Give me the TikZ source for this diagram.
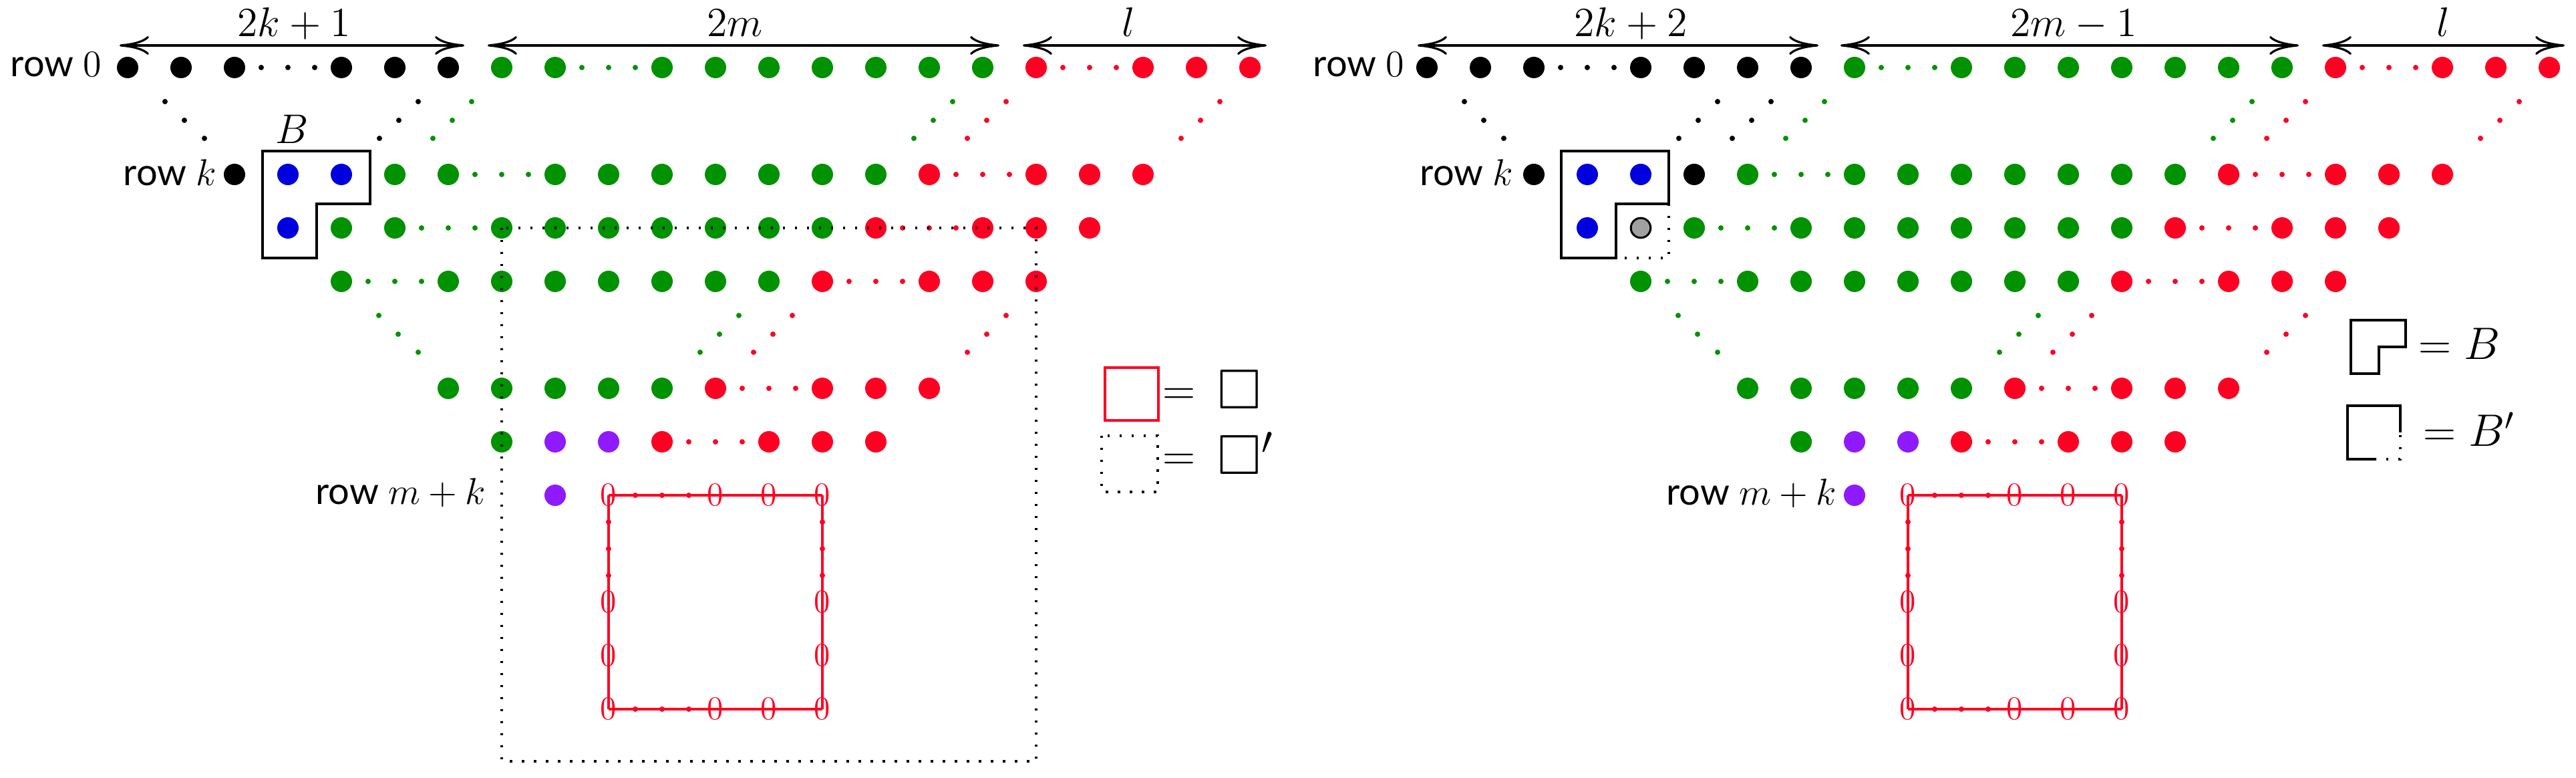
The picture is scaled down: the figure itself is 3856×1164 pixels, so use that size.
\RequirePackage{fix-cm}
\documentclass[tikz,border=0pt]{standalone}
\usepackage{amssymb}
\usepackage{graphicx}
\usepackage{fontspec}
\setmainfont{Lato}
\usetikzlibrary{arrows.meta}
\definecolor{dgreen}{RGB}{0,146,0}
\definecolor{dred}{RGB}{255,0,34}
\definecolor{dblue}{RGB}{0,0,222}
\definecolor{dpurple}{RGB}{143,26,255}
\definecolor{dgray}{RGB}{160,160,160}
\tikzset{
  bdot/.style={circle,inner sep=0pt,minimum size=8pt},
  sdot/.style={circle,inner sep=0pt,minimum size=2pt},
  dimarrow/.style={line width=0.8pt,{Computer Modern Rightarrow[length=11pt,width=7pt]}-{Computer Modern Rightarrow[length=11pt,width=7pt]}},
  dimlabel/.style={anchor=base,inner sep=0pt,font=\fontsize{15.5}{18}\selectfont},
  rowlabel/.style={anchor=base east,inner sep=0pt,font=\fontsize{14}{16}\selectfont},
  zero/.style={inner sep=0pt,text=dred,font=\fontsize{12.4}{14}\selectfont},
  legtext/.style={anchor=base west,inner sep=0pt,font=\fontsize{17}{20}\selectfont},
  sqline/.style={draw=dred,line width=1pt},
  sqside/.style={draw=dred,line width=0.8pt},
  dotline/.style={line width=0.875pt,dash pattern=on 0.875pt off 3.625pt},
  boxline/.style={line width=0.85pt},
}
% big dots in a row
\newcommand\bigrow[5]{\foreach \s in {#5}{\node[bdot,fill=#4] (#1-\s) at ({#2+80*\s},#3) {};}}
% horizontal ellipsis in a slot
\newcommand\ellrow[5]{\foreach \s in {#5}{\foreach \t/\oo in {a/-40,b/0,c/40}{\node[sdot,fill=#4] (#1-\s\t) at ({#2+80*\s+\oo},#3) {};}}}
% diagonal ellipsis going down-left
\newcommand\dldiag[5]{\foreach \s in {#5}{\foreach \t/\ox/\oy in {a/-45/51,b/-74/79,c/-103/106}{\node[sdot,fill=#4] (#1-\s\t) at ({#2+80*\s+(\ox)},{#3+\oy}) {};}}}
% diagonal ellipsis going down-right
\newcommand\drdiag[5]{\foreach \s in {#5}{\foreach \t/\ox/\oy in {a/56/51,b/85/79,c/115/106}{\node[sdot,fill=#4] (#1-\s\t) at ({#2+80*\s+\ox},{#3+\oy}) {};}}}
% red square of zeros
\newcommand\zerosquare[2]{%
  \foreach \c in {0,2,3,4}{%
    \node[zero] (#1t\c) at ({#2+80*\c},741) {$0$};
    \node[zero] (#1b\c) at ({#2+80*\c},1061) {$0$};}
  \foreach \r in {2,3}{%
    \node[zero] (#1l\r) at (#2,{741+80*\r}) {$0$};
    \node[zero] (#1r\r) at ({#2+320},{741+80*\r}) {$0$};}
  \foreach \t/\oo in {a/-40,b/0,c/40}{%
    \node[sdot,fill=dred] (#1te\t) at ({#2+80+\oo},741) {};
    \node[sdot,fill=dred] (#1be\t) at ({#2+80+\oo},1061) {};
    \node[sdot,fill=dred] (#1le\t) at (#2,{821+\oo}) {};
    \node[sdot,fill=dred] (#1re\t) at ({#2+320},{821+\oo}) {};}
  \draw[sqline] (#1t0.center) -- (#1t4.center);
  \draw[sqline] (#1b0.center) -- (#1b4.center);
  \draw[sqside] (#1t0.center) -- (#1b0.center);
  \draw[sqside] (#1t4.center) -- (#1b4.center);}
\begin{document}
\begin{tikzpicture}[x=0.25pt,y=-0.25pt]
\path[use as bounding box] (0,0) rectangle (3856,1164);

% ================= LEFT DIAGRAM =================
\coordinate (la1) at (179,68);  \coordinate (lb1) at (695,68);
\coordinate (la2) at (730,68);  \coordinate (lb2) at (1496,68);
\coordinate (la3) at (1531,68); \coordinate (lb3) at (1896,68);
\draw[dimarrow] (la1) -- (lb1);
\draw[dimarrow] (la2) -- (lb2);
\draw[dimarrow] (la3) -- (lb3);
\node[dimlabel] (lt1) at (440,55) {$2k+1$};
\node[dimlabel] (lt2) at (1100,55) {$2m$};
\node[dimlabel] (lt3) at (1689,55) {$l$};

\node[rowlabel] (lr0) at (153,115) {row $0$};
\node[rowlabel] (lrk) at (325,278) {row $k$};
\node[rowlabel] (lrm) at (728,755) {row $m+k$};

% row 0
\bigrow{L0}{191}{101}{black}{0,1,2,4,5,6}
\ellrow{L0}{191}{101}{black}{3}
\bigrow{L0}{191}{101}{dgreen}{7,8,10,11,12,13,14,15,16}
\ellrow{L0}{191}{101}{dgreen}{9}
\bigrow{L0}{191}{101}{dred}{17,19,20,21}
\ellrow{L0}{191}{101}{dred}{18}
% diagonals rows 0..k
\drdiag{LdU}{191}{101}{black}{0}
\dldiag{LdU}{191}{101}{black}{6}
\dldiag{LdU}{191}{101}{dgreen}{7,16}
\dldiag{LdU}{191}{101}{dred}{17,21}
% row k
\bigrow{Lk}{191}{261}{black}{2}
\bigrow{Lk}{191}{261}{dblue}{3,4}
\bigrow{Lk}{191}{261}{dgreen}{5,6,8,9,10,11,12,13,14}
\ellrow{Lk}{191}{261}{dgreen}{7}
\bigrow{Lk}{191}{261}{dred}{15,17,18,19}
\ellrow{Lk}{191}{261}{dred}{16}
% row k+1
\bigrow{LkA}{191}{341}{dblue}{3}
\bigrow{LkA}{191}{341}{dgreen}{4,5,7,8,9,10,11,12,13}
\ellrow{LkA}{191}{341}{dgreen}{6}
\bigrow{LkA}{191}{341}{dred}{14,16,17,18}
\ellrow{LkA}{191}{341}{dred}{15}
% row k+2
\bigrow{LkB}{191}{421}{dgreen}{4,6,7,8,9,10,11,12}
\ellrow{LkB}{191}{421}{dgreen}{5}
\bigrow{LkB}{191}{421}{dred}{13,15,16,17}
\ellrow{LkB}{191}{421}{dred}{14}
% diagonals lower
\drdiag{LdL}{191}{421}{dgreen}{4}
\dldiag{LdL}{191}{421}{dgreen}{12}
\dldiag{LdL}{191}{421}{dred}{13,17}
% row m+k-2
\bigrow{LmB}{191}{581}{dgreen}{6,7,8,9,10}
\bigrow{LmB}{191}{581}{dred}{11,13,14,15}
\ellrow{LmB}{191}{581}{dred}{12}
% row m+k-1
\bigrow{LmA}{191}{661}{dgreen}{7}
\bigrow{LmA}{191}{661}{dpurple}{8,9}
\bigrow{LmA}{191}{661}{dred}{10,12,13,14}
\ellrow{LmA}{191}{661}{dred}{11}
% row m+k
\bigrow{Lm}{191}{741}{dpurple}{8}
\zerosquare{LZ}{911}

% block B
\draw[boxline] (393,226) -- (554,226) -- (554,305) -- (474,305) -- (474,386) -- (393,386) -- cycle;
\node[dimlabel] (lB) at (437,215) {$B$};

% dotted square
\coordinate (ldbr) at (1551,1139);
\draw[dotline] (LkA-7.center) rectangle (ldbr);

% legend
\draw[dred,line width=0.83pt] (1654,550) rectangle (1734,629);
\draw[dotline] (1649,652) rectangle (1733,736);
\node[legtext] (leq1) at (1740,606) {$=$};
\node[legtext] (lsq1) at (1822,612) {\scalebox{1.24}{$\square$}};
\node[legtext] (leq2) at (1740,704) {$=$};
\node[legtext] (lsq2) at (1822,710) {\scalebox{1.24}{$\square'$}};

% ================= RIGHT DIAGRAM =================
\coordinate (ra1) at (2122,68);  \coordinate (rb1) at (2722,68);
\coordinate (ra2) at (2755,68);  \coordinate (rb2) at (3441,68);
\coordinate (ra3) at (3476,68);  \coordinate (rb3) at (3839,68);
\draw[dimarrow] (ra1) -- (rb1);
\draw[dimarrow] (ra2) -- (rb2);
\draw[dimarrow] (ra3) -- (rb3);
\node[dimlabel] (rt1) at (2441,55) {$2k+2$};
\node[dimlabel] (rt2) at (3104,55) {$2m-1$};
\node[dimlabel] (rt3) at (3657,55) {$l$};

\node[rowlabel] (rr0) at (2103,115) {row $0$};
\node[rowlabel] (rrk) at (2266,278) {row $k$};
\node[rowlabel] (rrm) at (2750,756) {row $m+k$};

% row 0
\bigrow{R0}{2136}{101}{black}{0,1,2,4,5,6,7}
\ellrow{R0}{2136}{101}{black}{3}
\bigrow{R0}{2136}{101}{dgreen}{8,10,11,12,13,14,15,16}
\ellrow{R0}{2136}{101}{dgreen}{9}
\bigrow{R0}{2136}{101}{dred}{17,19,20,21}
\ellrow{R0}{2136}{101}{dred}{18}
% diagonals rows 0..k
\drdiag{RdU}{2136}{101}{black}{0}
\dldiag{RdU}{2136}{101}{black}{6,7}
\dldiag{RdU}{2136}{101}{dgreen}{8,16}
\dldiag{RdU}{2136}{101}{dred}{17,21}
% row k
\bigrow{Rk}{2136}{261}{black}{2,5}
\bigrow{Rk}{2136}{261}{dblue}{3,4}
\bigrow{Rk}{2136}{261}{dgreen}{6,8,9,10,11,12,13,14}
\ellrow{Rk}{2136}{261}{dgreen}{7}
\bigrow{Rk}{2136}{261}{dred}{15,17,18,19}
\ellrow{Rk}{2136}{261}{dred}{16}
% row k+1
\bigrow{RkA}{2136}{341}{dblue}{3}
\node[bdot,fill=dgray,draw=black,line width=0.75pt,minimum size=7.4pt] (RkA-4) at (2456,341) {};
\bigrow{RkA}{2136}{341}{dgreen}{5,7,8,9,10,11,12,13}
\ellrow{RkA}{2136}{341}{dgreen}{6}
\bigrow{RkA}{2136}{341}{dred}{14,16,17,18}
\ellrow{RkA}{2136}{341}{dred}{15}
% row k+2
\bigrow{RkB}{2136}{421}{dgreen}{4,6,7,8,9,10,11,12}
\ellrow{RkB}{2136}{421}{dgreen}{5}
\bigrow{RkB}{2136}{421}{dred}{13,15,16,17}
\ellrow{RkB}{2136}{421}{dred}{14}
% diagonals lower
\drdiag{RdL}{2136}{421}{dgreen}{4}
\dldiag{RdL}{2136}{421}{dgreen}{12}
\dldiag{RdL}{2136}{421}{dred}{13,17}
% row m+k-2
\bigrow{RmB}{2136}{581}{dgreen}{6,7,8,9,10}
\bigrow{RmB}{2136}{581}{dred}{11,13,14,15}
\ellrow{RmB}{2136}{581}{dred}{12}
% row m+k-1
\bigrow{RmA}{2136}{661}{dgreen}{7}
\bigrow{RmA}{2136}{661}{dpurple}{8,9}
\bigrow{RmA}{2136}{661}{dred}{10,12,13,14}
\ellrow{RmA}{2136}{661}{dred}{11}
% row m+k
\bigrow{Rm}{2136}{741}{dpurple}{8}
\zerosquare{RZ}{2856}

% block B'
\draw[boxline] (2498,305) -- (2498,226) -- (2337,226) -- (2337,386) -- (2419,386) -- (2419,305) -- cycle;
\draw[dotline] (2498,305) -- (2498,386) -- (2419,386);

% legend
\draw[boxline] (3519,479) -- (3601,479) -- (3601,519) -- (3561,519) -- (3561,559) -- (3519,559) -- cycle;
\node[legtext] (req1) at (3620,538) {$=B$};
\draw[boxline] (3593,647) -- (3593,607) -- (3514,607) -- (3514,687) -- (3557,687);
\draw[dotline] (3593,651) -- (3593,687) -- (3557,687);
\node[legtext] (req2) at (3627,668) {$=B'$};
\end{tikzpicture}
\end{document}
